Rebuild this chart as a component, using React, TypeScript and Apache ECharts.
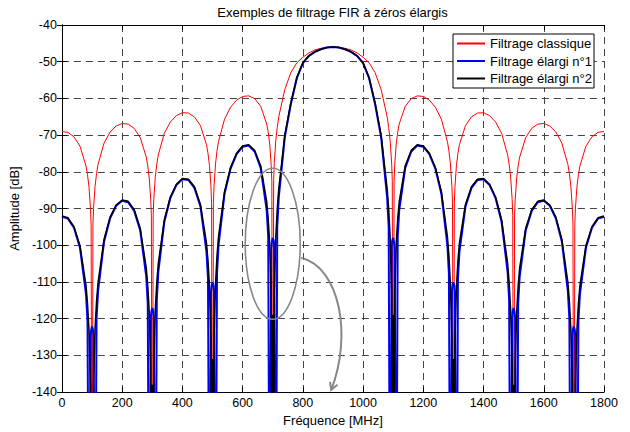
import React, { useEffect, useRef } from "react";
import * as echarts from "echarts";

// Frequency samples (MHz)
const freqMHz = [
  0, 20, 40, 60, 80,
  85, 90, 95, 97, 100, 103, 105, 110, 115,
  120, 140, 160, 180, 200, 220, 240, 260, 280,
  285, 290, 295, 297, 300, 303, 305, 310, 315,
  320, 340, 360, 380, 400, 420, 440, 460, 480,
  485, 490, 495, 497, 500, 503, 505, 510, 515,
  520, 540, 560, 580, 600, 620, 640, 660, 680,
  685, 690, 695, 697, 700, 703, 705, 710, 715,
  720, 740, 760, 780, 800, 820, 840, 860, 880, 900,
  920, 940, 960, 980, 1000, 1020, 1040, 1060, 1080,
  1085, 1090, 1095, 1097, 1100, 1103, 1105, 1110, 1115,
  1120, 1140, 1160, 1180, 1200, 1220, 1240, 1260, 1280,
  1285, 1290, 1295, 1297, 1300, 1303, 1305, 1310, 1315,
  1320, 1340, 1360, 1380, 1400, 1420, 1440, 1460, 1480,
  1485, 1490, 1495, 1497, 1500, 1503, 1505, 1510, 1515,
  1520, 1540, 1560, 1580, 1600, 1620, 1640, 1660, 1680,
  1685, 1690, 1695, 1697, 1700, 1703, 1705, 1710, 1715,
  1720, 1740, 1760, 1780, 1800,
];

// Filtrage classique (dB)
const classique = [
  -69.01, -69.25, -70.45, -73.02, -78.40,
  -80.78, -84.21, -90.15, -94.56, -200, -94.49, -90.04, -83.99, -80.46,
  -77.97, -72.15, -69.15, -67.51, -66.82, -67.01, -68.15, -70.66, -75.97,
  -78.34, -81.74, -87.66, -92.07, -200, -91.98, -87.52, -81.45, -77.90,
  -75.39, -69.50, -66.41, -64.68, -63.90, -63.98, -65.02, -67.41, -72.59,
  -74.92, -78.29, -84.18, -88.57, -200, -88.44, -83.96, -77.86, -74.27,
  -71.72, -65.66, -62.39, -60.46, -59.47, -59.30, -60.06, -62.14, -66.97,
  -69.21, -72.48, -78.26, -82.61, -200, -82.35, -77.83, -71.61, -67.90,
  -65.00, -57.60, -53.00, -50.30, -48.80, -47.60, -46.80, -46.35, -46.10, -46.00,
  -46.10, -46.35, -46.80, -47.60, -48.80, -50.30, -53.00, -57.60, -65.00,
  -67.90, -71.61, -77.83, -82.35, -200, -82.61, -78.26, -72.48, -69.21,
  -66.97, -62.14, -60.06, -59.30, -59.47, -60.46, -62.39, -65.66, -71.72,
  -74.27, -77.86, -83.96, -88.44, -200, -88.57, -84.18, -78.29, -74.92,
  -72.59, -67.41, -65.02, -63.98, -63.90, -64.68, -66.41, -69.50, -75.39,
  -77.90, -81.45, -87.52, -91.98, -200, -92.07, -87.66, -81.74, -78.34,
  -75.97, -70.66, -68.15, -67.01, -66.82, -67.51, -69.15, -72.15, -77.97,
  -80.46, -83.99, -90.04, -94.49, -200, -94.56, -90.15, -84.21, -80.78,
  -78.40, -73.02, -70.45, -69.25, -69.01,
];

// Filtrage élargi n°1 (dB)
const elargi1 = [
  -92.23, -92.74, -95.24, -100.69, -113.37,
  -120.74, -200, -124.82, -123.10, -122.10, -122.96, -124.60, -200, -120.09,
  -112.50, -98.95, -92.63, -89.25, -87.87, -88.26, -90.64, -95.96, -108.51,
  -115.85, -200, -119.86, -118.12, -117.10, -117.94, -119.57, -200, -114.98,
  -107.35, -93.64, -87.15, -83.60, -82.02, -82.21, -84.37, -89.45, -101.75,
  -109.02, -200, -112.89, -111.12, -110.10, -110.86, -112.45, -200, -107.71,
  -100.01, -85.97, -79.12, -75.16, -73.15, -72.84, -74.46, -78.92, -90.51,
  -97.59, -200, -101.05, -99.20, -98.00, -98.68, -100.19, -200, -94.98,
  -87.00, -70.60, -61.60, -54.50, -50.40, -48.40, -47.30, -46.60, -46.15, -46.00,
  -46.15, -46.60, -47.30, -48.40, -50.40, -54.50, -61.60, -70.60, -87.00,
  -94.98, -200, -100.19, -98.68, -98.00, -99.20, -101.05, -200, -97.59,
  -90.51, -78.92, -74.46, -72.84, -73.15, -75.16, -79.12, -85.97, -100.01,
  -107.71, -200, -112.45, -110.86, -110.10, -111.12, -112.89, -200, -109.02,
  -101.75, -89.45, -84.37, -82.21, -82.02, -83.60, -87.15, -93.64, -107.35,
  -114.98, -200, -119.57, -117.94, -117.10, -118.12, -119.86, -200, -115.85,
  -108.51, -95.96, -90.64, -88.26, -87.87, -89.25, -92.63, -98.95, -112.50,
  -120.09, -200, -124.60, -122.96, -122.10, -123.10, -124.82, -200, -120.74,
  -113.37, -100.69, -95.24, -92.74, -92.23,
];

// Filtrage élargi n°2 (dB)
const elargi2 = [
  -92.03, -92.52, -94.94, -100.11, -111.00,
  -115.92, -123.24, -138.17, -200, -143.00, -200, -137.95, -122.80, -115.27,
  -110.13, -98.37, -92.33, -89.03, -87.67, -88.04, -90.34, -95.38, -106.14,
  -111.03, -118.31, -133.21, -200, -138.00, -200, -132.92, -117.73, -110.16,
  -104.98, -93.06, -86.85, -83.38, -81.82, -81.99, -84.07, -88.87, -99.38,
  -104.20, -111.41, -126.24, -200, -131.00, -200, -125.81, -110.54, -102.90,
  -97.64, -85.39, -78.82, -74.94, -72.95, -72.62, -74.16, -78.34, -88.14,
  -92.78, -99.79, -114.40, -200, -118.96, -200, -113.54, -98.05, -90.17,
  -84.70, -70.00, -61.30, -54.30, -50.30, -48.40, -47.30, -46.60, -46.15, -46.00,
  -46.15, -46.60, -47.30, -48.40, -50.30, -54.30, -61.30, -70.00, -84.70,
  -90.17, -98.05, -113.54, -200, -118.96, -200, -114.40, -99.79, -92.78,
  -88.14, -78.34, -74.16, -72.62, -72.95, -74.94, -78.82, -85.39, -97.64,
  -102.90, -110.54, -125.81, -200, -131.00, -200, -126.24, -111.41, -104.20,
  -99.38, -88.87, -84.07, -81.99, -81.82, -83.38, -86.85, -93.06, -104.98,
  -110.16, -117.73, -132.92, -200, -138.00, -200, -133.21, -118.31, -111.03,
  -106.14, -95.38, -90.34, -88.04, -87.67, -89.03, -92.33, -98.37, -110.13,
  -115.27, -122.80, -137.95, -200, -143.00, -200, -138.17, -123.24, -115.92,
  -111.00, -100.11, -94.94, -92.52, -92.03,
];

const seriesNames = ["Filtrage classique", "Filtrage élargi n°1", "Filtrage élargi n°2"];
const xTickValues = [0, 200, 400, 600, 800, 1000, 1200, 1400, 1600, 1800];
const yTickValues = [-140, -130, -120, -110, -100, -90, -80, -70, -60, -50, -40];
// annotated zone (centre of the grey ellipse, data coordinates)
const zoneCenter = [700, -99.6];

export default function App() {
  const ref = useRef<HTMLDivElement>(null);

  useEffect(() => {
    const el = ref.current!;
    const chart = echarts.init(el, null, { renderer: "svg" });
    const font = "'Liberation Sans', Arial, Helvetica, sans-serif";
    const pairs = (vals: number[]) => freqMHz.map((f, i) => [f, vals[i]]);
    const xMin = xTickValues[0];
    const xMax = xTickValues[xTickValues.length - 1];
    const xStep = xTickValues[1] - xTickValues[0];
    const yMin = yTickValues[0];
    const yMax = yTickValues[yTickValues.length - 1];
    const yStep = yTickValues[1] - yTickValues[0];

    const frameLine = { show: true, lineStyle: { color: "#000", width: 1 } };
    const tick = { show: true, inside: true, length: 5, lineStyle: { color: "#000", width: 1 } };
    const grid = { show: true, lineStyle: { color: "#444", width: 1, type: [7, 5] } };
    const labelStyle = { color: "#000", fontSize: 12.5, fontFamily: font };

    const option: any = {
      animation: false,
      backgroundColor: "#fff",
      textStyle: { fontFamily: font },
      title: {
        text: "Exemples de filtrage FIR à zéros élargis",
        left: 332.5,
        top: 6,
        textAlign: "center",
        padding: 0,
        textStyle: { fontSize: 13, fontWeight: "normal", color: "#000", fontFamily: font },
      },
      grid: { left: 61, right: 26, top: 25, bottom: 33, containLabel: false },
      legend: {
        orient: "vertical",
        left: 453,
        top: 34,
        padding: [2, 2, 2, 4],
        itemGap: 2.5,
        itemWidth: 28,
        itemHeight: 2,
        icon: "rect",
        selectedMode: false,
        borderColor: "#000",
        borderWidth: 1,
        backgroundColor: "#fff",
        textStyle: { fontSize: 13, color: "#000", fontFamily: font, lineHeight: 15 },
        data: seriesNames,
        z: 10,
      },
      xAxis: [
        {
          type: "value",
          min: xMin,
          max: xMax,
          interval: xStep,
          position: "bottom",
          axisLine: frameLine,
          axisTick: tick,
          axisLabel: { ...labelStyle, margin: 4, formatter: (v: number) => String(v) },
          splitLine: grid,
          name: "Fréquence [MHz]",
          nameLocation: "middle",
          nameGap: 17,
          nameTextStyle: { color: "#000", fontSize: 13, fontFamily: font },
        },
        {
          type: "value",
          min: xMin,
          max: xMax,
          interval: xStep,
          position: "top",
          axisLine: frameLine,
          axisTick: tick,
          axisLabel: { show: false },
          splitLine: { show: false },
        },
      ],
      yAxis: [
        {
          type: "value",
          min: yMin,
          max: yMax,
          interval: yStep,
          position: "left",
          axisLine: frameLine,
          axisTick: tick,
          axisLabel: { ...labelStyle, margin: 5, formatter: (v: number) => String(v) },
          splitLine: grid,
          name: "Amplitude [dB]",
          nameLocation: "middle",
          nameGap: 37,
          nameTextStyle: { color: "#000", fontSize: 13, fontFamily: font },
        },
        {
          type: "value",
          min: yMin,
          max: yMax,
          interval: yStep,
          position: "right",
          axisLine: frameLine,
          axisTick: tick,
          axisLabel: { show: false },
          splitLine: { show: false },
        },
      ],
      series: [
        {
          name: seriesNames[0],
          type: "line",
          data: pairs(classique),
          symbol: "none",
          showSymbol: false,
          clip: true,
          lineStyle: { color: "#ff0000", width: 1 },
          itemStyle: { color: "#ff0000" },
          emphasis: { disabled: true },
          z: 2,
        },
        {
          name: seriesNames[1],
          type: "line",
          data: pairs(elargi1),
          symbol: "none",
          showSymbol: false,
          clip: true,
          lineStyle: { color: "#0000ff", width: 2 },
          itemStyle: { color: "#0000ff" },
          emphasis: { disabled: true },
          z: 3,
        },
        {
          name: seriesNames[2],
          type: "line",
          data: pairs(elargi2),
          symbol: "none",
          showSymbol: false,
          clip: true,
          lineStyle: { color: "#000000", width: 1.5 },
          itemStyle: { color: "#000000" },
          emphasis: { disabled: true },
          z: 4,
        },
      ],
    };

    chart.setOption(option);

    const c = chart.convertToPixel({ gridIndex: 0 }, zoneCenter) as number[];
    const cx = c[0];
    const cy = c[1];
    const grey = "#888888";
    chart.setOption({
      graphic: [
        {
          type: "ellipse",
          silent: true,
          z: 100,
          shape: { cx, cy, rx: 27.5, ry: 75.5 },
          style: { fill: "none", stroke: grey, lineWidth: 1.6 },
        },
        {
          type: "bezierCurve",
          silent: true,
          z: 100,
          shape: {
            x1: cx + 28.5,
            y1: cy + 14,
            cpx1: cx + 67.5,
            cpy1: cy + 24,
            cpx2: cx + 79.5,
            cpy2: cy + 92,
            x2: cx + 58.5,
            y2: cy + 146,
          },
          style: { fill: "none", stroke: grey, lineWidth: 2 },
        },
        {
          type: "polyline",
          silent: true,
          z: 100,
          shape: {
            points: [
              [cx + 64.7, cy + 141],
              [cx + 58.5, cy + 146],
              [cx + 57.3, cy + 138.1],
            ],
          },
          style: { fill: "none", stroke: grey, lineWidth: 2 },
        },
      ],
    });

    return () => chart.dispose();
  }, []);

  return (
    <div
      ref={ref}
      style={{ position: "fixed", left: 0, top: 0, width: 630, height: 432, background: "#fff" }}
    />
  );
}
